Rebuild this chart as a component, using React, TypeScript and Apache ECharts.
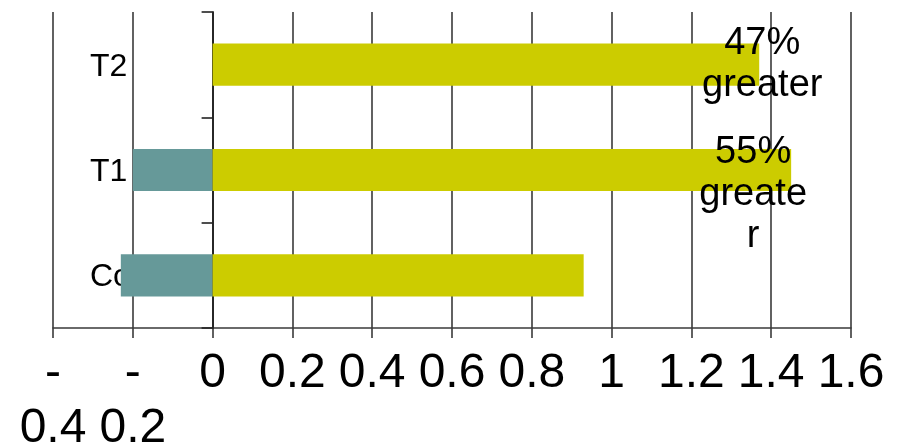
import React, { useEffect, useRef } from "react";
import * as echarts from "echarts";

const categories = ["Control", "T1", "T2"];
const tealValues = [-0.23, -0.2, 0];
const yellowValues = [0.93, 1.45, 1.37];
const annotations = ["", "55%\ngreate\nr", "47%\ngreater"];
const annotationOffsets: [number, number][] = [[0, 0], [-38, 22], [3, -3]];
const xMin = -0.4;
const xMax = 1.6;
const xInterval = 0.2;

const FONT = "'Liberation Sans', Arial, sans-serif";
const LINE = "#3a3a3a";

export default function App() {
  const ref = useRef<HTMLDivElement>(null);
  useEffect(() => {
    if (!ref.current) return;
    const chart = echarts.init(ref.current, null, { renderer: "svg" });
    chart.setOption({
      animation: false,
      textStyle: { fontFamily: FONT },
      grid: {
        left: 53,
        right: 56,
        top: 12,
        bottom: 116,
        containLabel: false,
        outerBoundsMode: "none",
      },
      xAxis: {
        type: "value",
        min: xMin,
        max: xMax,
        interval: xInterval,
        axisLine: { show: true, onZero: false, lineStyle: { color: LINE, width: 1.6 } },
        axisTick: { show: true, length: 10, lineStyle: { color: LINE, width: 1.6 } },
        splitLine: { show: true, lineStyle: { color: LINE, width: 1.6 } },
        axisLabel: {
          color: "#000",
          fontFamily: FONT,
          fontSize: 48,
          margin: 4,
          verticalAlign: "top",
          formatter: (v: number) => {
            const r = Math.round(v * 10) / 10;
            return r < 0 ? "{a|-}\n{b|" + String(Math.abs(r)) + "}" : "{a|" + String(r) + "}";
          },
          rich: {
            a: { fontSize: 48, lineHeight: 76, color: "#000", fontFamily: FONT },
            b: { fontSize: 48, lineHeight: 34, color: "#000", fontFamily: FONT },
          },
        },
      },
      yAxis: [
        {
          type: "category",
          data: categories,
          z: 1,
          axisLine: { show: true, onZero: true, lineStyle: { color: "#222", width: 1.8 } },
          axisTick: { show: true, length: 11, lineStyle: { color: "#222", width: 1.6 } },
          axisLabel: { show: false },
          splitLine: { show: false },
        },
        {
          type: "category",
          data: categories,
          position: "left",
          z: 0,
          axisLine: { show: false, onZero: false },
          axisTick: { show: false },
          axisLabel: {
            show: true,
            inside: true,
            margin: 37,
            fontSize: 32,
            color: "#000",
            fontFamily: FONT,
          },
          splitLine: { show: false },
        },
      ],
      series: [
        {
          name: "neg",
          type: "bar",
          stack: "s",
          barWidth: "40%",
          z: 5,
          itemStyle: { color: "#669999" },
          data: tealValues,
        },
        {
          name: "pos",
          type: "bar",
          stack: "s",
          barWidth: "40%",
          z: 5,
          itemStyle: { color: "#CCCC00" },
          data: yellowValues.map((v, i) => ({
            value: v,
            label: annotations[i]
              ? {
                  show: true,
                  position: "right",
                  distance: 0,
                  align: "center",
                  verticalAlign: "middle",
                  offset: annotationOffsets[i],
                  formatter: annotations[i],
                  fontSize: 38,
                  lineHeight: 42,
                  color: "#000",
                  fontFamily: FONT,
                }
              : { show: false },
          })),
        },
      ],
    });
    return () => chart.dispose();
  }, []);
  return (
    <div
      ref={ref}
      style={{ position: "fixed", left: 0, top: 0, width: 907, height: 444 }}
    />
  );
}
